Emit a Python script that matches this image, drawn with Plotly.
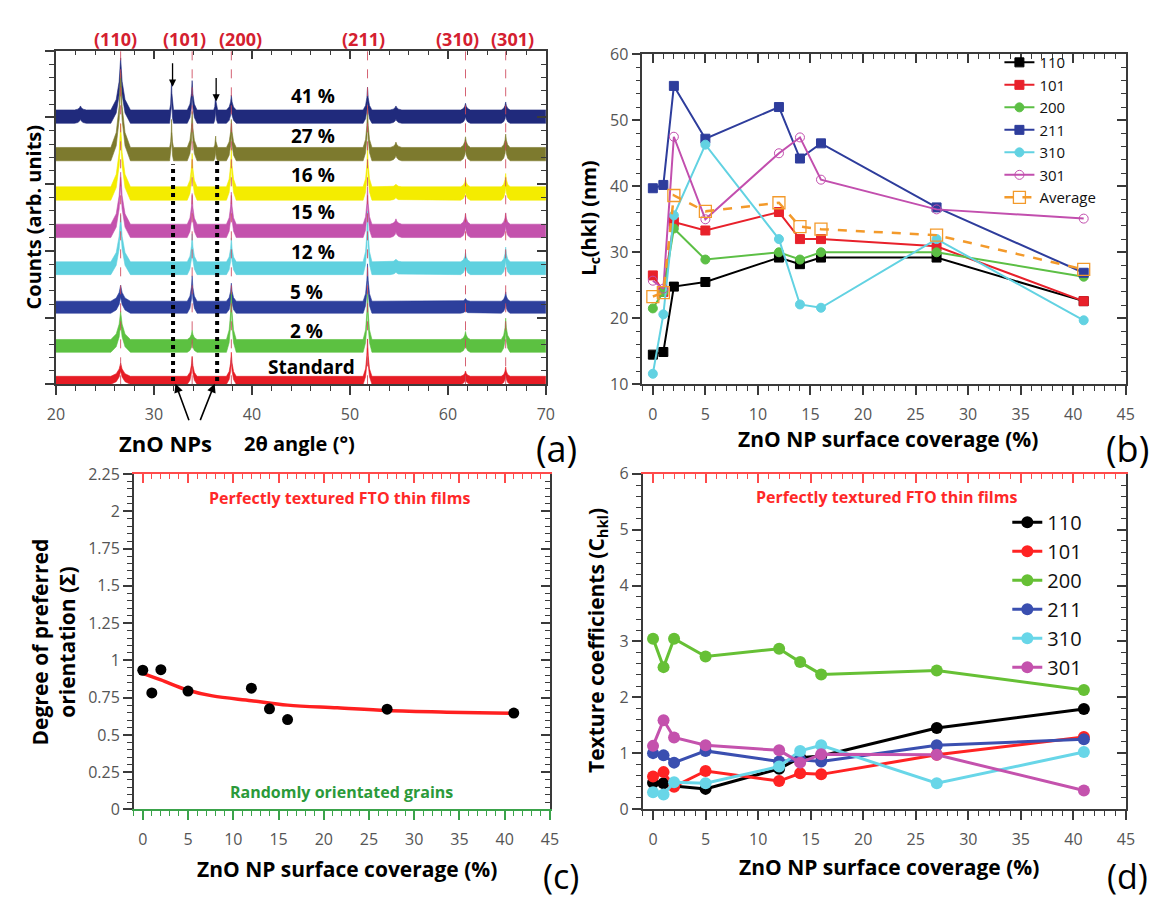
import plotly.graph_objects as go

W, H = 1162, 899
FONT = "Open Sans"
AX = "#3a3a3a"
TICK = "#555555"


def px(x):
    return x / W


def py(y):
    return 1 - y / H


# ---------------- (a) XRD patterns ----------------
two_theta_range = [20, 70]
peak_pos = [22.5, 26.6, 31.8, 33.9, 36.3, 37.9, 51.8, 54.7, 61.8, 65.9]
peak_halfwidth = [0.6, 1.0, 0.2, 0.5, 0.2, 0.5, 0.45, 0.6, 0.5, 0.45]
samples = ["41 %", "27 %", "16 %", "15 %", "12 %", "5 %", "2 %", "Standard"]
sample_colors = ["#202a7c", "#7d7a2e", "#f4ec00", "#c452ad", "#5fd1df",
                 "#2d3f9c", "#5cc141", "#e61c25"]
baselines = [20.06, 17.25, 14.3, 11.5, 8.7, 5.78, 2.88, 0.3]
band_half = [0.5, 0.5, 0.5, 0.5, 0.48, 0.45, 0.48, 0.3]
peak_heights = [
    [0.3, 3.9, 2.2, 2.2, 1.2, 1.1, 1.7, 0.3, 0.5, 0.6],   # 41 %
    [0.0, 5.6, 2.1, 2.7, 0.85, 2.1, 3.0, 0.4, 0.8, 1.0],  # 27 %
    [0.0, 4.7, 0.0, 2.5, 0.0, 2.9, 3.0, 0.2, 0.6, 1.0],   # 16 %
    [0.0, 3.9, 0.0, 2.3, 0.0, 2.4, 2.8, 0.4, 0.8, 0.85],  # 15 %
    [0.0, 3.5, 0.0, 2.1, 0.0, 1.8, 3.8, 0.2, 0.7, 1.1],   # 12 %
    [0.0, 1.2, 0.0, 1.9, 0.0, 1.35, 2.8, 0.0, 0.2, 0.7],  # 5 %
    [0.0, 2.1, 0.0, 0.7, 0.0, 3.6, 3.6, 0.0, 0.6, 1.6],   # 2 %
    [0.0, 1.0, 0.0, 1.5, 0.0, 1.8, 2.8, 0.0, 0.4, 0.7],   # Standard
]
sample_label_x = [46.2, 46.2, 46.2, 46.2, 46.2, 45.6, 45.6, 46.1]
sample_label_y = [21.6, 18.6, 15.7, 12.9, 9.9, 6.9, 4.0, 1.3]

hkl_labels = ["(110)", "(101)", "(200)", "(211)", "(310)", "(301)"]
hkl_pos = [26.6, 33.9, 37.9, 51.8, 61.8, 65.9]
hkl_label_x = [26.1, 33.1, 38.8, 51.4, 61.0, 66.6]
zno_pos = [31.95, 36.45]

# peak profile template (fraction of half-width, fraction of height)
prof_dx = [-1.0, -0.45, -0.15, 0.0, 0.15, 0.45, 1.0]
prof_dy = [0.0, 0.2, 0.55, 1.0, 0.55, 0.2, 0.0]


def pattern_band(base, half, heights):
    xs, ys = [two_theta_range[0]], [base]
    for p, w, h in zip(peak_pos, peak_halfwidth, heights):
        if h <= 0:
            continue
        for dx, dy in zip(prof_dx, prof_dy):
            xs.append(p + dx * w)
            ys.append(base + dy * h)
    xs.append(two_theta_range[1])
    ys.append(base)
    up = [y + half for y in ys]
    lo = [y - half for y in ys]
    return xs + xs[::-1], up + lo[::-1]


fig = go.Figure()

for name, col, b, hh, hts in zip(samples, sample_colors, baselines, band_half, peak_heights):
    bx, by = pattern_band(b, hh, hts)
    fig.add_trace(go.Scatter(x=bx, y=by, fill="toself", fillcolor=col, mode="lines",
                             line=dict(color=col, width=0.6), showlegend=False,
                             hoverinfo="skip", xaxis="x", yaxis="y"))

# ---------------- (b) crystallite size ----------------
coverage = [0, 1, 2, 5, 12, 14, 16, 27, 41]
lc_110 = [14.5, 14.9, 24.8, 25.5, 29.2, 28.2, 29.2, 29.2, 22.6]
lc_101 = [26.5, 24.0, 34.6, 33.3, 36.1, 32.0, 32.0, 30.9, 22.6]
lc_200 = [21.5, 24.0, 33.6, 28.9, 30.0, 28.9, 30.0, 30.0, 26.3]
lc_211 = [39.7, 40.2, 55.2, 47.2, 52.0, 44.2, 46.5, 36.8, 26.9]
lc_310 = [11.6, 20.6, 35.6, 46.3, 32.0, 22.1, 21.6, 32.0, 19.7]
lc_301 = [25.7, 24.5, 47.5, 35.0, 45.0, 47.4, 41.0, 36.5, 35.1]
lc_avg = [23.3, 23.9, 38.6, 36.2, 37.5, 33.9, 33.5, 32.6, 27.4]

hkl_names = ["110", "101", "200", "211", "310", "301"]
col_b = ["#000000", "#e8212b", "#5cbf45", "#2e3d9c", "#62d2e2", "#c24fae"]
sym_b = ["square", "square", "circle", "square", "circle", "circle-open"]
lc_series = [lc_110, lc_101, lc_200, lc_211, lc_310, lc_301]

for nm, c, s, vals in zip(hkl_names, col_b, sym_b, lc_series):
    fig.add_trace(go.Scatter(
        x=coverage, y=vals, name=nm, mode="lines+markers",
        line=dict(color=c, width=2),
        marker=dict(symbol=s, size=9, color=c, line=dict(color=c, width=1)),
        xaxis="x2", yaxis="y2", legend="legend"))
fig.add_trace(go.Scatter(
    x=coverage, y=lc_avg, name="Average", mode="lines+markers",
    line=dict(color="#f39a2b", width=2.5, dash="dash"),
    marker=dict(symbol="square-open", size=12, color="#f39a2b", line=dict(width=1.3)),
    xaxis="x2", yaxis="y2", legend="legend"))

# ---------------- (c) degree of preferred orientation ----------------
sigma = [0.934, 0.782, 0.938, 0.794, 0.814, 0.675, 0.603, 0.673, 0.647]
fit_x = [0, 2, 5, 7.7, 12, 16, 21.5, 27, 33.6, 41]
fit_y = [0.913, 0.869, 0.80, 0.762, 0.73, 0.70, 0.682, 0.664, 0.653, 0.645]

fig.add_trace(go.Scatter(x=fit_x, y=fit_y, mode="lines", line=dict(color="#ff2020", width=3.5, shape="spline"),
                         showlegend=False, xaxis="x3", yaxis="y3"))
fig.add_trace(go.Scatter(x=coverage, y=sigma, mode="markers",
                         marker=dict(symbol="circle", size=11, color="#000000"),
                         showlegend=False, xaxis="x3", yaxis="y3"))

# ---------------- (d) texture coefficients ----------------
tc_110 = [0.47, 0.46, 0.41, 0.36, 0.72, 0.92, 0.95, 1.45, 1.79]
tc_101 = [0.58, 0.66, 0.40, 0.68, 0.50, 0.64, 0.62, 0.97, 1.29]
tc_200 = [3.05, 2.54, 3.05, 2.73, 2.87, 2.63, 2.41, 2.48, 2.13]
tc_211 = [1.00, 0.96, 0.83, 1.04, 0.85, 0.88, 0.85, 1.14, 1.25]
tc_310 = [0.30, 0.26, 0.48, 0.46, 0.76, 1.04, 1.14, 0.46, 1.02]
tc_301 = [1.13, 1.59, 1.28, 1.14, 1.05, 0.83, 0.98, 0.97, 0.33]
col_d = ["#000000", "#ff2323", "#66c035", "#3a4fb0", "#68d6e8", "#c452ad"]
tc_series = [tc_110, tc_101, tc_200, tc_211, tc_310, tc_301]

for nm, c, vals in zip(hkl_names, col_d, tc_series):
    fig.add_trace(go.Scatter(
        x=coverage, y=vals, name=nm, mode="lines+markers",
        line=dict(color=c, width=3),
        marker=dict(symbol="circle", size=12, color=c),
        xaxis="x4", yaxis="y4", legend="legend2"))

# empty traces so the mirrored frame axes (top / right) are rendered
for xa, ya in [("x5", "y"), ("x", "y5"), ("x6", "y2"), ("x2", "y6"),
               ("x7", "y3"), ("x3", "y7"), ("x8", "y4"), ("x4", "y8")]:
    fig.add_trace(go.Scatter(x=[None], y=[None], mode="markers", showlegend=False,
                             hoverinfo="skip", xaxis=xa, yaxis=ya))


# ---------------- axes ----------------
def axis(**kw):
    d = dict(showgrid=False, zeroline=False, showline=True, linecolor=AX, linewidth=1.5,
             tickcolor=AX, tickwidth=1.5, ticklen=9, tick0=0,
             tickfont=dict(family=FONT, size=16, color=TICK))
    d.update(kw)
    return d


def minor(dt, direction, color=AX):
    return dict(dtick=dt, ticks=direction, ticklen=5, tickwidth=1.2, tickcolor=color)


dom_a = dict(x=[px(47.7), px(545.3)], y=[py(382.7), py(40.7)])
dom_b = dict(x=[px(643.3), px(1134.3)], y=[py(382.7), py(44.3)])
dom_c = dict(x=[px(126.7), px(549.5)], y=[py(818.5), py(474.7)])
dom_d = dict(x=[px(643.5), px(1134.5)], y=[py(818.0), py(474.5)])

RED_AX = "#ff4a4a"
GREEN_AX = "#3aa34a"

layout = dict(
    width=W, height=H, margin=dict(l=0, r=0, t=0, b=0),
    paper_bgcolor="white", plot_bgcolor="white",
    font=dict(family=FONT, color="#000"),
    # (a)
    xaxis=axis(domain=dom_a["x"], anchor="y", range=two_theta_range, tick0=20, dtick=10,
               ticks="outside", minor=minor(2, "outside"), ticklabelstandoff=6),
    yaxis=axis(domain=dom_a["y"], anchor="x", range=[0, 25], dtick=5, ticks="outside",
               showticklabels=False, minor=minor(1, "outside")),
    xaxis5=axis(overlaying="x", anchor="y", side="top", range=two_theta_range, tick0=20, dtick=10,
                ticks="inside", showticklabels=False, minor=minor(2, "inside")),
    yaxis5=axis(overlaying="y", anchor="x", side="right", range=[0, 25], dtick=5,
                ticks="inside", showticklabels=False, minor=minor(1, "inside")),
    # (b)
    xaxis2=axis(domain=dom_b["x"], anchor="y2", range=[-1, 45], dtick=5, ticks="outside",
                minor=minor(1, "outside"), ticklabelstandoff=6),
    yaxis2=axis(domain=dom_b["y"], anchor="x2", range=[10, 60], dtick=10, ticks="outside",
                minor=minor(2, "outside")),
    xaxis6=axis(overlaying="x2", anchor="y2", side="top", range=[-1, 45], dtick=5,
                ticks="inside", showticklabels=False, minor=minor(1, "inside")),
    yaxis6=axis(overlaying="y2", anchor="x2", side="right", range=[10, 60], dtick=10,
                ticks="inside", showticklabels=False, minor=minor(2, "inside")),
    # (c)
    xaxis3=axis(domain=dom_c["x"], anchor="y3", range=[-1, 45], dtick=5, ticks="outside",
                linecolor=GREEN_AX, tickcolor=GREEN_AX, minor=minor(1, "outside", GREEN_AX),
                ticklabelstandoff=6),
    yaxis3=axis(domain=dom_c["y"], anchor="x3", range=[0, 2.25], ticks="outside",
                tickvals=[0, 0.25, 0.5, 0.75, 1, 1.25, 1.5, 1.75, 2, 2.25],
                ticktext=["0", "0.25", "0.5", "0.75", "1", "1.25", "1.5", "1.75", "2", "2.25"],
                minor=minor(0.05, "outside")),
    xaxis7=axis(overlaying="x3", anchor="y3", side="top", range=[-1, 45], dtick=5,
                linecolor=RED_AX, tickcolor=RED_AX,
                ticks="inside", showticklabels=False, minor=minor(1, "inside", RED_AX)),
    yaxis7=axis(overlaying="y3", anchor="x3", side="right", range=[0, 2.25], dtick=0.25,
                ticks="inside", showticklabels=False, minor=minor(0.05, "inside")),
    # (d)
    xaxis4=axis(domain=dom_d["x"], anchor="y4", range=[-1, 45], dtick=5, ticks="outside",
                minor=minor(1, "outside"), ticklabelstandoff=6),
    yaxis4=axis(domain=dom_d["y"], anchor="x4", range=[0, 6], dtick=1, ticks="outside",
                minor=minor(0.2, "outside")),
    xaxis8=axis(overlaying="x4", anchor="y4", side="top", range=[-1, 45], dtick=5,
                linecolor=RED_AX, tickcolor=RED_AX,
                ticks="inside", showticklabels=False, minor=minor(1, "inside", RED_AX)),
    yaxis8=axis(overlaying="y4", anchor="x4", side="right", range=[0, 6], dtick=1,
                ticks="inside", showticklabels=False, minor=minor(0.2, "inside")),
    legend=dict(x=px(1006), y=py(36), xanchor="left", yanchor="top",
                bgcolor="rgba(0,0,0,0)", font=dict(family=FONT, size=15, color="#111"),
                tracegroupgap=0),
    legend2=dict(x=px(1014), y=py(504), xanchor="left", yanchor="top",
                 bgcolor="rgba(0,0,0,0)", font=dict(family=FONT, size=20, color="#111"),
                 tracegroupgap=0),
)
fig.update_layout(**layout)

shapes = []
for p in hkl_pos:
    shapes.append(dict(type="line", xref="x", yref="y", x0=p, x1=p, y0=0, y1=25, layer="above",
                       line=dict(color="rgba(205,70,90,0.85)", width=1, dash="dash")))
zno_top = [16.5, 16.9]
for p, t in zip(zno_pos, zno_top):
    shapes.append(dict(type="line", xref="x", yref="y", x0=p, x1=p, y0=0.25, y1=t, layer="above",
                       line=dict(color="#000000", width=4, dash="dot")))
fig.update_layout(shapes=shapes)

ann = []


def text(x, y, s, size, color="#000", xref="paper", yref="paper", angle=0, **kw):
    d = dict(x=x, y=y, xref=xref, yref=yref, text=s, showarrow=False, textangle=angle,
             font=dict(family=FONT, size=size, color=color), xanchor="center", yanchor="middle")
    d.update(kw)
    ann.append(d)


# (a) texts
for lab, lx in zip(hkl_labels, hkl_label_x):
    text(lx, py(28.5), f"<b>{lab}</b>", 18, "#d42030", xref="x")
for s, lx, ly in zip(samples, sample_label_x, sample_label_y):
    text(lx, ly, f"<b>{s}</b>", 19, xref="x", yref="y")
text(px(25), py(211), "<b>Counts (arb. units)</b>", 20, angle=-90)
text(px(159), py(443), "<b>ZnO NPs</b>", 22)
text(px(295), py(443), "<b>2θ angle (°)</b>", 20)
text(px(556), py(448), "(a)", 36)

# arrows marking the ZnO reflections
arrow_top = [[31.9, 22.3], [36.35, 21.2]]
for ax_, ay_ in arrow_top:
    ann.append(dict(x=ax_, y=ay_, xref="x", yref="y", ax=0, ay=-25, text="", showarrow=True,
                    arrowhead=2, arrowsize=1.1, arrowwidth=1.3, arrowcolor="#000"))
arrow_bottom = [[32.2, 0.05, 14, 38], [36.2, 0.05, -15, 38]]
for ax_, ay_, dx, dy in arrow_bottom:
    ann.append(dict(x=ax_, y=ay_, xref="x", yref="y", ax=dx, ay=dy, text="", showarrow=True,
                    arrowhead=2, arrowsize=1.1, arrowwidth=1.6, arrowcolor="#000"))

# (b) texts
text(px(590), py(212), "<b>L<sub>c</sub>(hkl) (nm)</b>", 20, angle=-90)
text(px(893), py(439), "<b>ZnO NP surface coverage (%)</b>", 21)
text(px(1136), py(448), "(b)", 36)

# (c) texts
text(px(45), py(647), "<b>Degree of preferred<br>orientation (Σ)</b>", 21, angle=-90)
text(px(336), py(499), "<b>Perfectly textured FTO thin films</b>", 16, "#ff2828")
text(px(338), py(800.7), "<b>Randomly orientated grains</b>", 16, "#2b9a3a")
text(px(343), py(880), "<b>ZnO NP surface coverage (%)</b>", 21)
text(px(561), py(861), "(c)", 34, yanchor="top")

# (d) texts
text(px(597), py(645), "<b>Texture coefficients (C<sub>hkl</sub>)</b>", 21, angle=-90)
text(px(891), py(497.7), "<b>Perfectly textured FTO thin films</b>", 16, "#ff2828")
text(px(894), py(877), "<b>ZnO NP surface coverage (%)</b>", 21)
text(px(1136), py(861), "(d)", 34, yanchor="top")

fig.update_layout(annotations=ann)
fig.write_html("out.html")
